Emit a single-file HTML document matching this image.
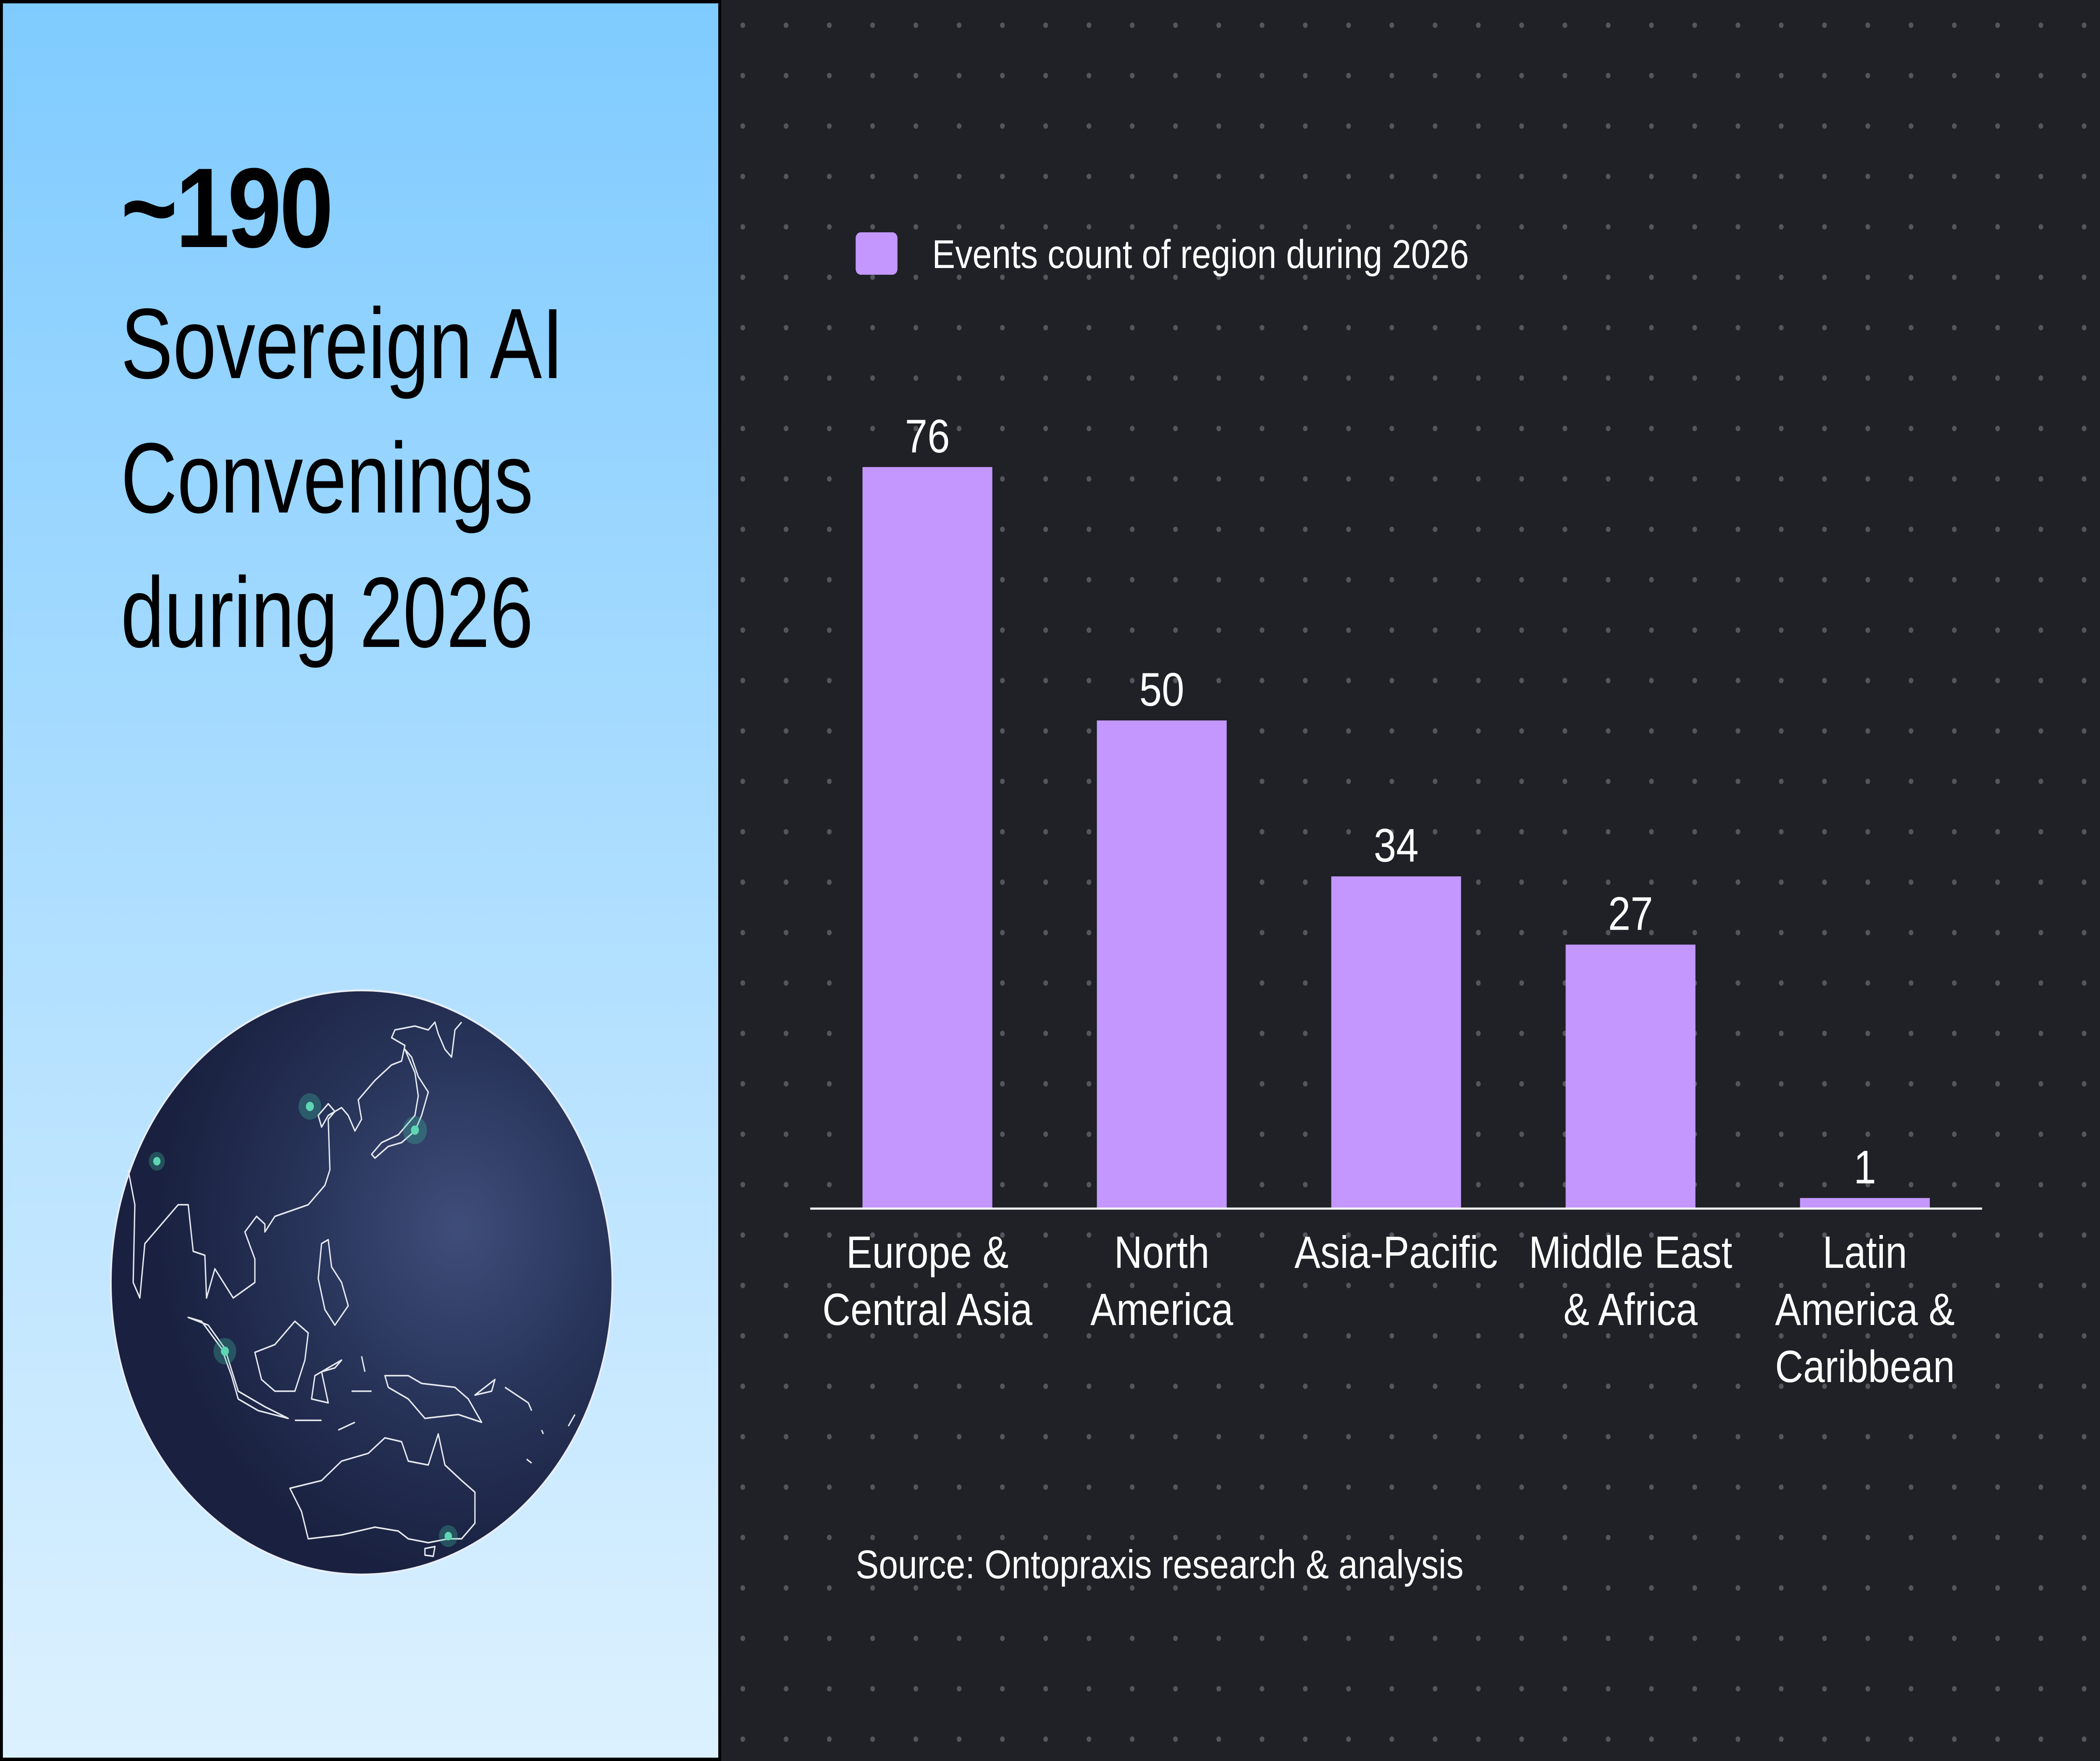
<!DOCTYPE html>
<html><head><meta charset="utf-8">
<style>
html,body{margin:0;padding:0;width:100%;height:100%;overflow:hidden;background:#1f2126;}
#root{display:block;width:100vw;height:100vh;}
</style></head>
<body>
<svg id="root" viewBox="0 0 5824 4192" preserveAspectRatio="none" xmlns="http://www.w3.org/2000/svg" font-family="Liberation Sans, sans-serif">
<defs>
<linearGradient id="lgrad" x1="0" y1="0" x2="0" y2="1">
<stop offset="0" stop-color="#7fcbff"/><stop offset="0.45" stop-color="#a9dcff"/><stop offset="1" stop-color="#dcf1ff"/>
</linearGradient>
<radialGradient id="gg" cx="1050" cy="620" r="900" gradientUnits="userSpaceOnUse">
<stop offset="0" stop-color="#3f4d7a"/><stop offset="0.55" stop-color="#263257"/><stop offset="1" stop-color="#1a2140"/>
</radialGradient>
<pattern id="dots" x="2000" y="0" width="120" height="120" patternUnits="userSpaceOnUse">
<circle cx="60" cy="60" r="6.5" fill="#53565c"/>
</pattern>
</defs>
<rect x="0" y="0" width="5824" height="4192" fill="#1f2126"/>
<rect x="2000" y="0" width="3824" height="4192" fill="url(#dots)"/>
<rect x="0" y="0" width="2000" height="4192" fill="#000"/>
<rect x="8" y="8" width="1984" height="4176" fill="url(#lgrad)"/>

<text x="335" y="588" font-size="270" font-weight="bold" letter-spacing="-6" fill="#000">~190</text>
<g transform="translate(335,0) scale(0.91,1)" font-size="238" fill="#000">
<text x="0" y="900">Sovereign AI</text>
<text x="0" y="1220">Convenings</text>
<text x="0" y="1540">during 2026</text>
</g>

<g transform="translate(300,2350) scale(0.9247)">
<circle cx="760" cy="760" r="752" fill="url(#gg)" stroke="#e8eef8" stroke-width="5"/>
<g fill="none" stroke="#e6e9f0" stroke-width="4" stroke-linejoin="round">
<path d="M60,470 L80,560 L75,760 L95,800 L110,660 L160,610 L210,560 L240,560 L255,680 L290,690 L295,800 L320,725 L375,800 L440,760 L440,700 L410,630 L445,590 L470,610 L470,630 L500,590 L600,560 L650,510 L665,470 L660,340 L680,320 L660,300 L630,330 L640,360 L660,330 L700,310 L720,330 L740,370 L760,340 L750,290 L800,240 L850,200 L880,190 L890,150 L850,130 L860,110 L920,100 L960,110 L980,90 L990,120 L1010,160 L1030,180 L1040,110 L1060,90"/>
<path d="M890,160 L920,220 L930,280 L920,330 L870,380 L820,400 L790,430 L800,440 L840,410 L880,400 L920,370 L940,330 L960,270 L930,230 L910,180 Z"/>
<path d="M240,850 L280,860 L340,930 L370,1000 L390,1060 L450,1090 L540,1110 L470,1080 L390,1040 L350,930 L300,870 Z"/>
<path d="M440,940 L500,920 L560,860 L600,890 L590,960 L560,1040 L500,1040 L460,1010 Z"/>
<path d="M620,1000 L700,960 L680,980 L640,990 L660,1070 L610,1060 Z"/>
<path d="M640,660 L660,650 L670,720 L700,760 L720,820 L680,870 L650,830 L630,750 Z"/>
<path d="M830,1000 L900,1000 L940,1020 L1040,1030 L1080,1060 L1120,1120 L1050,1100 L950,1110 L900,1060 L840,1030 Z"/>
<path d="M545,1290 L640,1270 L700,1220 L780,1200 L830,1160 L880,1170 L900,1220 L960,1230 L990,1150 L1010,1230 L1060,1270 L1100,1300 L1100,1380 L1060,1420 L1020,1420 L960,1430 L900,1420 L870,1400 L800,1390 L700,1410 L600,1420 L580,1350 Z"/>
<path d="M950,1445 L980,1440 L975,1465 L950,1462 Z"/>
<path d="M1100,1050 L1160,1010 L1150,1040 Z M1190,1030 L1260,1070 L1270,1090 M1300,1140 L1305,1150 M1380,1130 L1400,1100 M1255,1215 L1270,1225"/>
<path d="M560,1115 L640,1115 M690,1140 L740,1120 M730,1040 L790,1040 M760,950 L770,990"/>
</g>
<circle cx="605" cy="307" r="34" fill="#3fbf9e" opacity="0.3"/><circle cx="605" cy="307" r="12" fill="#5ed6b4"/>
<circle cx="920" cy="368" r="36" fill="#3fbf9e" opacity="0.3"/><circle cx="920" cy="368" r="12" fill="#5ed6b4"/>
<circle cx="146" cy="448" r="24" fill="#3fbf9e" opacity="0.3"/><circle cx="146" cy="448" r="11" fill="#5ed6b4"/>
<circle cx="350" cy="937" r="34" fill="#3fbf9e" opacity="0.3"/><circle cx="350" cy="937" r="12" fill="#5ed6b4"/>
<circle cx="1020" cy="1413" r="28" fill="#3fbf9e" opacity="0.3"/><circle cx="1020" cy="1413" r="11" fill="#5ed6b4"/>
</g>

<g id="chart"></g>
</svg>

<script>
const categories = [["Europe &","Central Asia"],["North","America"],["Asia-Pacific"],["Middle East","& Africa"],["Latin","America &","Caribbean"]];
const values = [76, 50, 34, 27, 1];
const valueLabels = ["76","50","34","27","1"];

const chart = document.getElementById('chart');
const NS = 'http://www.w3.org/2000/svg';
const baseY = 2875, pxPerUnit = 23.2;
const step = 650, barW = 360, c0 = 2572;
function xScale(i){ return c0 + i*step; }
function yScale(v){ return baseY - v*pxPerUnit; }
function mk(tag, attrs){ const e=document.createElementNS(NS,tag); for(const k in attrs) e.setAttribute(k,attrs[k]); return e; }

const lg = mk('rect',{x:2373,y:553,width:116,height:101,rx:14,fill:'#c397fd'});


chart.appendChild(lg);
const lt = mk('text',{x:2585,y:638,fill:'#ffffff','font-size':96});
lt.textContent='Events count of region during 2026';


chart.appendChild(lt);

values.forEach((v,i)=>{
  const cx = xScale(i);
  const y = yScale(v);
  const b = mk('rect',{x:cx-barW/2,y:y,width:barW,height:baseY-y,fill:'#c397fd'});
  
  
  chart.appendChild(b);
  const t = mk('text',{x:cx,y:y-35,fill:'#ffffff','font-size':112,'text-anchor':'middle'});
  t.textContent = valueLabels[i];
  
  
  chart.appendChild(t);
  categories[i].forEach((line,j)=>{
    const c = mk('text',{x:cx,y:3018+j*136,fill:'#ffffff','font-size':108,'text-anchor':'middle'});
    c.textContent=line;
    
    
    chart.appendChild(c);
  });
});

const ax = mk('line',{x1:2247,y1:baseY+2,x2:5497,y2:baseY+2,stroke:'#ffffff','stroke-width':5});


chart.appendChild(ax);

const src = mk('text',{x:2373,y:3757,fill:'#ffffff','font-size':96});
src.textContent='Source: Ontopraxis research & analysis';


chart.appendChild(src);
</script>
</body></html>
